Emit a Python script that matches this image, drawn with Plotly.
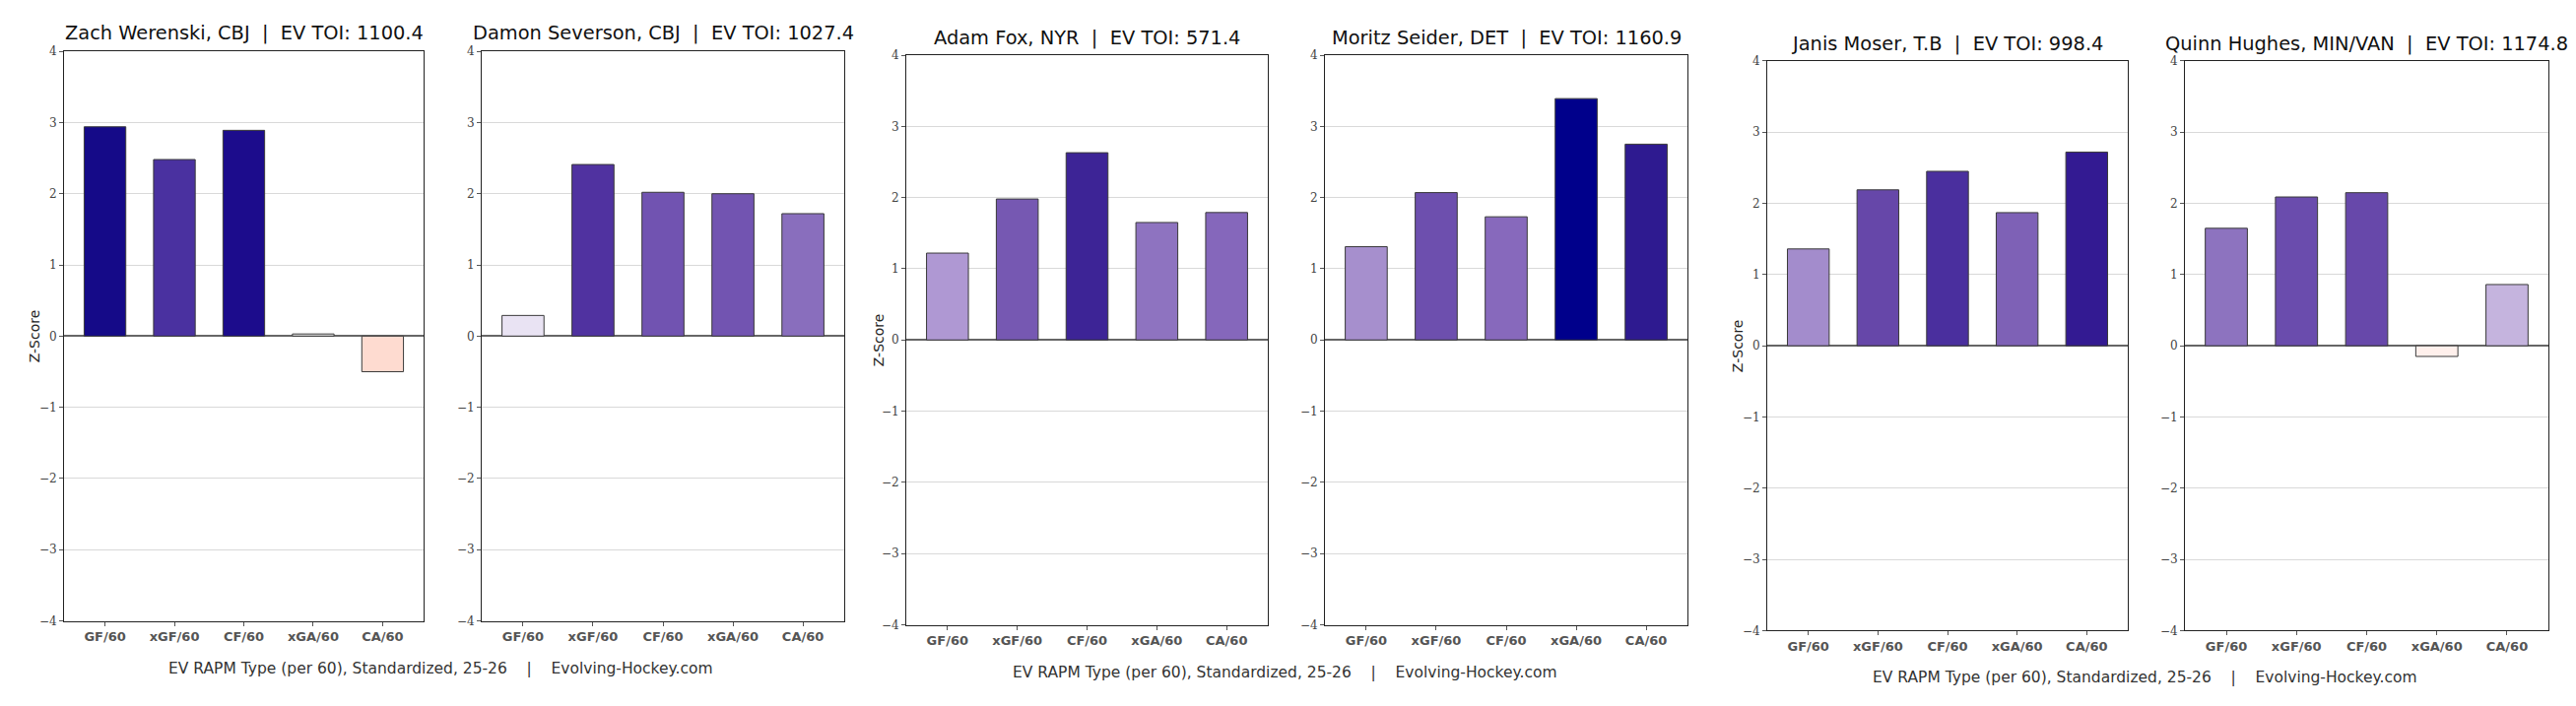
import plotly.graph_objects as go

W, H = 2615, 717

categories = ["GF/60", "xGF/60", "CF/60", "xGA/60", "CA/60"]
players = ["Zach Werenski", "Damon Severson", "Adam Fox", "Moritz Seider", "Janis Moser", "Quinn Hughes"]
teams = ["CBJ", "CBJ", "NYR", "DET", "T.B", "MIN/VAN"]
ev_toi = ["1100.4", "1027.4", "571.4", "1160.9", "998.4", "1174.8"]

werenski = [2.94, 2.48, 2.89, 0.03, -0.50]
severson = [0.29, 2.41, 2.02, 2.00, 1.72]
fox = [1.22, 1.98, 2.63, 1.65, 1.79]
seider = [1.31, 2.07, 1.73, 3.39, 2.75]
moser = [1.36, 2.19, 2.45, 1.87, 2.72]
hughes = [1.65, 2.09, 2.15, -0.15, 0.86]
values = [werenski, severson, fox, seider, moser, hughes]

y_ticks = [-4, -3, -2, -1, 0, 1, 2, 3, 4]
caption = "EV RAPM Type (per 60), Standardized, 25-26\u00a0\u00a0\u00a0\u00a0|\u00a0\u00a0\u00a0\u00a0Evolving-Hockey.com"
y_label = "Z-Score"

# styles (bar fill colours)
bar_colors = [
    ["#150a88", "#4a31a0", "#1c0c8c", "#e4e4e4", "#fedbd0"],
    ["#e9e3f3", "#5032a0", "#7153b1", "#7254b1", "#896ebd"],
    ["#af98d3", "#7658b2", "#3d2496", "#8e73c0", "#8567bb"],
    ["#a68fcd", "#6d4fae", "#8769bc", "#00008b", "#2e1a90"],
    ["#a38ccc", "#6647a9", "#4a2f9e", "#7e61b6", "#331a92"],
    ["#8d73bf", "#6a4cad", "#6748aa", "#fff0ec", "#c5b4de"],
]

# panel pixel boxes (left, right, top, bottom)
boxes = [
    (65, 430, 46, 636),
    (489, 857, 46, 636),
    (920, 1287, 50, 640),
    (1345, 1713, 50, 640),
    (1794, 2160, 56, 646),
    (2218, 2587, 56, 646),
]
title_y = [27, 27, 32, 32, 38, 38]
caption_pos = [(448, 685), (1304, 689), (2177, 695)]
ylabel_pos = [(35, 341), (892, 345), (1764, 351)]

fig = go.Figure()
layout = dict(
    width=W, height=H,
    margin=dict(l=0, r=0, t=0, b=0),
    paper_bgcolor="white", plot_bgcolor="white",
    showlegend=False,
    font=dict(family="DejaVu Sans", color="#222"),
    annotations=[],
    bargap=0.4,
)

for i, (vals, cols) in enumerate(zip(values, bar_colors)):
    n = "" if i == 0 else str(i + 1)
    xa, ya = "x" + n, "y" + n
    fig.add_trace(go.Bar(
        x=categories, y=vals, xaxis=xa, yaxis=ya,
        width=0.6,
        marker=dict(color=cols, line=dict(color="#3a3a3a", width=1)),
    ))
    l, r, t, b = boxes[i]
    layout["xaxis" + n] = dict(
        domain=[l / W, r / W], anchor=ya,
        type="category", range=[-0.59, 4.59],
        showline=True, mirror=True, linecolor="#222", linewidth=1,
        ticks="outside", ticklen=4, tickcolor="#555",
        tickfont=dict(family="DejaVu Sans", size=13, color="#555", weight="bold"),
        showgrid=False, fixedrange=True,
    )
    layout["yaxis" + n] = dict(
        domain=[1 - b / H, 1 - t / H], anchor=xa,
        range=[-4, 4], tickvals=y_ticks,
        showline=True, mirror=True, linecolor="#222", linewidth=1,
        ticks="outside", ticklen=4, tickcolor="#555",
        tickfont=dict(family="DejaVu Serif", size=12, color="#444"),
        showgrid=True, gridcolor="#d9d9d9", gridwidth=1,
        zeroline=True, zerolinecolor="#666", zerolinewidth=2,
        fixedrange=True,
    )
    layout["annotations"].append(dict(
        xref="paper", yref="paper",
        x=(l + r) / 2 / W, y=1 - title_y[i] / H,
        xanchor="center", yanchor="middle", showarrow=False,
        text=f"{players[i]}, {teams[i]}\u00a0\u00a0|\u00a0\u00a0EV TOI: {ev_toi[i]}",
        font=dict(family="DejaVu Sans", size=19.4, color="#111"),
    ))

for (cx, cy) in caption_pos:
    layout["annotations"].append(dict(
        xref="paper", yref="paper", x=cx / W, y=1 - cy / H,
        xanchor="center", yanchor="middle", showarrow=False,
        text=caption, font=dict(family="DejaVu Sans", size=15.5, color="#333"),
    ))

for (cx, cy) in ylabel_pos:
    layout["annotations"].append(dict(
        xref="paper", yref="paper", x=cx / W, y=1 - cy / H,
        xanchor="center", yanchor="middle", showarrow=False, textangle=-90,
        text=y_label, font=dict(family="DejaVu Sans", size=14, color="#222"),
    ))

fig.update_layout(**layout)
fig.write_html("out.html", config={"displayModeBar": False},
               post_script="document.body.style.margin='0';")
